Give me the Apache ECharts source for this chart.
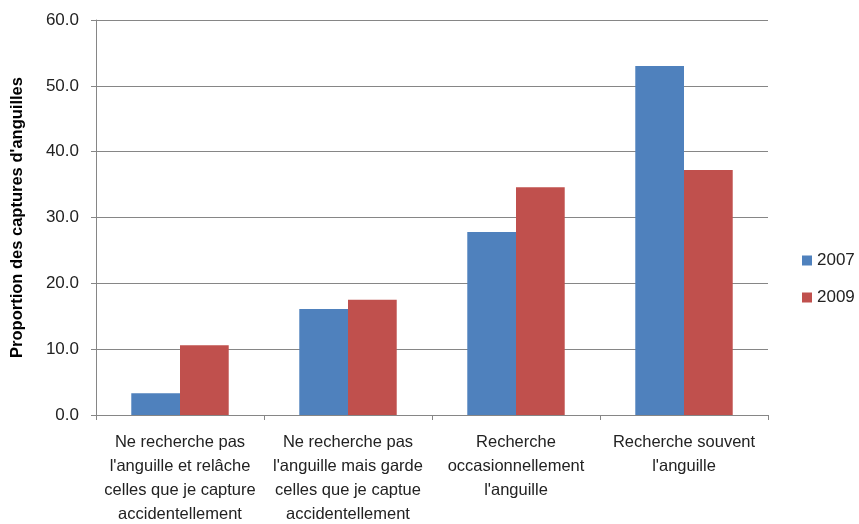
<!DOCTYPE html>
<html><head><meta charset="utf-8">
<script src="https://cdn.jsdelivr.net/npm/echarts@6/dist/echarts.min.js"></script>
<style>html,body{margin:0;padding:0;background:#fff}#c{width:859px;height:524px}</style>
</head><body><div id="c"></div>
<script>
const categories = [
  "Ne recherche pas\nl'anguille et relâche\ncelles que je capture\naccidentellement",
  "Ne recherche pas\nl'anguille mais garde\ncelles que je captue\naccidentellement",
  "Recherche\noccasionnellement\nl'anguille",
  "Recherche souvent\nl'anguille"
];
const seriesNames = ["2007", "2009"];
const values2007 = [3.3, 16.1, 27.8, 53.0];
const values2009 = [10.6, 17.5, 34.6, 37.2];
const yAxisTitle = "Proportion des captures d'anguilles";

const chart = echarts.init(document.getElementById('c'), null, {renderer: 'canvas'});
const font = "'Liberation Sans', Arial, sans-serif";
chart.setOption({
  animation: false,
  backgroundColor: '#fff',
  textStyle: {fontFamily: font},
  grid: {left: 96, right: 91, top: 20, bottom: 109, containLabel: false, outerBoundsMode: 'none'},
  legend: {
    orient: 'vertical', left: 797, top: 247,
    itemWidth: 10, itemHeight: 10, itemGap: 20,
    icon: 'rect',
    textStyle: {fontSize: 17, color: '#222', fontFamily: font},
    data: seriesNames
  },
  xAxis: {
    type: 'category', data: categories,
    axisLine: {lineStyle: {color: '#868686', width: 1}},
    axisTick: {show: true, length: 5, lineStyle: {color: '#868686'}},
    axisLabel: {fontSize: 16.5, color: '#222', lineHeight: 24, margin: 15, interval: 0, fontFamily: font}
  },
  yAxis: {
    type: 'value', min: 0, max: 60, interval: 10,
    name: yAxisTitle, nameLocation: 'middle', nameGap: 70, nameRotate: 90,
    nameTextStyle: {fontSize: 16.5, fontWeight: 'bold', color: '#000', fontFamily: font},
    axisLine: {show: true, lineStyle: {color: '#868686'}},
    axisTick: {show: true, length: 5, lineStyle: {color: '#868686'}},
    splitLine: {lineStyle: {color: '#868686', width: 1}},
    axisLabel: {fontSize: 17, color: '#222', margin: 17, formatter: v => v.toFixed(1), fontFamily: font}
  },
  series: [
    {name: seriesNames[0], type: 'bar', data: values2007, barGap: '0%', barCategoryGap: '42%', itemStyle: {color: '#4F81BD'}},
    {name: seriesNames[1], type: 'bar', data: values2009, barGap: '0%', barCategoryGap: '42%', itemStyle: {color: '#C0504D'}}
  ]
});
</script></body></html>
